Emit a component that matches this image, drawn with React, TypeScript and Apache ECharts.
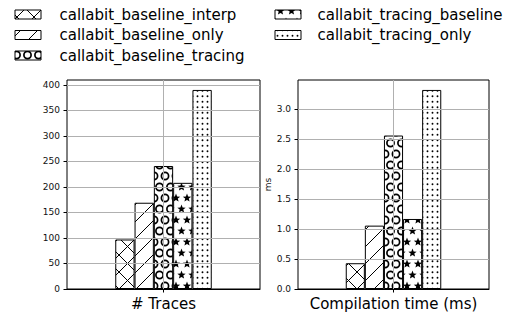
import React, { useEffect, useRef } from "react";
import * as echarts from "echarts";

// ---- data ----
const seriesNames = [
  "callabit_baseline_interp",
  "callabit_baseline_only",
  "callabit_baseline_tracing",
  "callabit_tracing_baseline",
  "callabit_tracing_only",
];
const tracesValues = [97, 169, 241, 208, 390];
const compileMsValues = [0.43, 1.057, 2.56, 1.168, 3.32];
const leftTicks = [0, 50, 100, 150, 200, 250, 300, 350, 400];
const rightTicks = [0, 0.5, 1.0, 1.5, 2.0, 2.5, 3.0];
const xTicks = [0];
const panelTitles = ["# Traces", "Compilation time (ms)"];
const rightYName = "ms";

const FONT = "DejaVu Sans";
const GRID_GRAY = "#b0b0b0";

type Draw = (ctx: CanvasRenderingContext2D, w: number, h: number) => void;

function tile(w: number, h: number, draw: Draw) {
  const c = document.createElement("canvas");
  c.width = w;
  c.height = h;
  const ctx = c.getContext("2d")!;
  ctx.fillStyle = "#fff";
  ctx.fillRect(0, 0, w, h);
  ctx.strokeStyle = "#000";
  ctx.fillStyle = "#000";
  draw(ctx, w, h);
  return { image: c, repeat: "repeat", imageWidth: w, imageHeight: h } as any;
}

function seg(ctx: CanvasRenderingContext2D, x1: number, y1: number, x2: number, y2: number) {
  ctx.beginPath();
  ctx.moveTo(x1, y1);
  ctx.lineTo(x2, y2);
  ctx.stroke();
}

function starPath(ctx: CanvasRenderingContext2D, cx: number, cy: number, R: number, r: number) {
  ctx.beginPath();
  for (let k = 0; k < 10; k++) {
    const ang = -Math.PI / 2 + (k * Math.PI) / 5;
    const rad = k % 2 === 0 ? R : r;
    ctx.lineTo(cx + rad * Math.cos(ang), cy + rad * Math.sin(ang));
  }
  ctx.closePath();
  ctx.fill();
}

function makePatterns() {
  const P = 17;
  const cross = tile(P, P, (ctx) => {
    ctx.lineWidth = 1;
    for (const dx of [-P, 0, P]) {
      seg(ctx, dx, P, dx + P, 0);
      seg(ctx, dx, 0, dx + P, P);
    }
  });
  const slash = tile(P, P, (ctx) => {
    ctx.lineWidth = 1;
    for (const dx of [-P, 0, P]) seg(ctx, dx, P, dx + P, 0);
  });
  const Q = 11;
  const staggered = (fn: (ctx: CanvasRenderingContext2D, x: number, y: number) => void) =>
    tile(Q, 2 * Q, (ctx) => {
      const pts = [
        [0, 0], [Q, 0], [0, 2 * Q], [Q, 2 * Q], [Q / 2, Q],
        [-Q / 2, Q], [1.5 * Q, Q],
      ];
      for (const [x, y] of pts) fn(ctx, x, y);
    });
  const circles = staggered((ctx, x, y) => {
    ctx.lineWidth = 1.7;
    ctx.beginPath();
    ctx.arc(x, y, 3.6, 0, Math.PI * 2);
    ctx.stroke();
  });
  const stars = staggered((ctx, x, y) => starPath(ctx, x, y, 4.4, 1.9));
  const dots = tile(10, 11, (ctx) => {
    for (const x of [2.5, 7.5])
      for (const y of [2.75, 8.25]) {
        ctx.beginPath();
        ctx.arc(x, y, 0.95, 0, Math.PI * 2);
        ctx.fill();
      }
  });
  return [cross, slash, circles, stars, dots];
}

export default function App() {
  const ref = useRef<HTMLDivElement>(null);
  useEffect(() => {
    const chart = echarts.init(ref.current!, null, { renderer: "svg" });
    const patterns = makePatterns();

    const grids = [
      { left: 67, top: 80, width: 193, height: 209 },
      { left: 298, top: 80, width: 191, height: 209 },
    ].map((g) => ({
      ...g,
      show: true,
      borderColor: "#000",
      borderWidth: 1,
      backgroundColor: "transparent",
      containLabel: false,
      outerBoundsMode: "none",
    }));

    const panels = [
      { values: tracesValues, ticks: leftTicks, interval: 50, fmt: (v: number) => String(v), yName: "" },
      { values: compileMsValues, ticks: rightTicks, interval: 0.5, fmt: (v: number) => v.toFixed(1), yName: rightYName },
    ];

    const xAxis: any[] = [];
    const yAxis: any[] = [];
    const series: any[] = [];
    panels.forEach((p, gi) => {
      const ymax = Math.max(...p.values) * 1.05;
      xAxis.push({
        type: "value",
        gridIndex: gi,
        position: "bottom",
        min: -0.5,
        max: 0.5,
        interval: 0.5,
        z: 3,
        axisLine: { show: true, onZero: false, lineStyle: { color: "#000", width: 1 } },
        axisLabel: { show: false },
        axisTick: { show: true, length: 3.5, customValues: xTicks, lineStyle: { color: "#000", width: 1 } },
        splitLine: { show: false },
        name: panelTitles[gi],
        nameLocation: "middle",
        nameGap: 7,
        nameTextStyle: { fontFamily: FONT, fontSize: 15, color: "#000", verticalAlign: "top" },
      });
      yAxis.push({
        type: "value",
        gridIndex: gi,
        position: "left",
        min: 0,
        max: ymax,
        interval: p.interval,
        z: 3,
        axisLine: { show: false, onZero: false },
        axisTick: { show: true, length: 3.5, customValues: p.ticks, lineStyle: { color: "#000", width: 1 } },
        axisLabel: {
          customValues: p.ticks,
          formatter: p.fmt,
          fontFamily: FONT,
          fontSize: 9,
          color: "#111",
          margin: 7,
        },
        splitLine: { show: true, showMinLine: false, lineStyle: { color: GRID_GRAY, width: 1 } },
        name: p.yName,
        nameLocation: "middle",
        nameRotate: 90,
        nameGap: 23,
        nameTextStyle: { fontFamily: FONT, fontSize: 9, color: "#111" },
      });
      seriesNames.forEach((name, si) => {
        series.push({
          type: "bar",
          name,
          xAxisIndex: gi,
          yAxisIndex: gi,
          data: [[0, p.values[si]]],
          barWidth: "10%",
          barGap: "0%",
          silent: true,
          itemStyle: { color: patterns[si], borderColor: "#000", borderWidth: 1 },
          emphasis: { disabled: true },
        });
      });
      // vertical grid line at each x tick, spanning the whole y range
      xTicks.forEach((xv) => {
        series.push({
          type: "line",
          name: "xgrid" + gi + "_" + xv,
          xAxisIndex: gi,
          yAxisIndex: gi,
          data: [[xv, 0], [xv, ymax]],
          symbol: "none",
          silent: true,
          clip: false,
          z: 10,
          lineStyle: { color: GRID_GRAY, width: 1, type: "solid" },
          emphasis: { disabled: true },
          tooltip: { show: false },
        });
      });
    });

    // legend built as graphic elements (two columns, like the original)
    const legendCols = [
      { iconX: 15, textX: 59.5 },
      { iconX: 275, textX: 317.5 },
    ];
    const rowYs = [14.5, 35, 55.5];
    const graphic: any[] = [];
    seriesNames.forEach((name, i) => {
      const col = legendCols[i < 3 ? 0 : 1];
      const rowY = rowYs[i < 3 ? i : i - 3];
      graphic.push({
        type: "rect",
        shape: { x: col.iconX, y: rowY - 4.5, width: 26, height: 9 },
        style: { fill: patterns[i], stroke: "#000", lineWidth: 1 },
        silent: true,
      });
      graphic.push({
        type: "text",
        x: col.textX,
        y: rowY,
        style: {
          text: name,
          fontFamily: FONT,
          fontSize: 15,
          fill: "#000",
          verticalAlign: "middle",
          align: "left",
        },
        silent: true,
      });
    });

    chart.setOption({
      animation: false,
      backgroundColor: "#fff",
      grid: grids,
      xAxis,
      yAxis,
      series,
      graphic,
    });
    return () => chart.dispose();
  }, []);
  return (
    <div
      ref={ref}
      style={{ position: "fixed", left: 0, top: 0, width: 515, height: 317, background: "#fff" }}
    />
  );
}
